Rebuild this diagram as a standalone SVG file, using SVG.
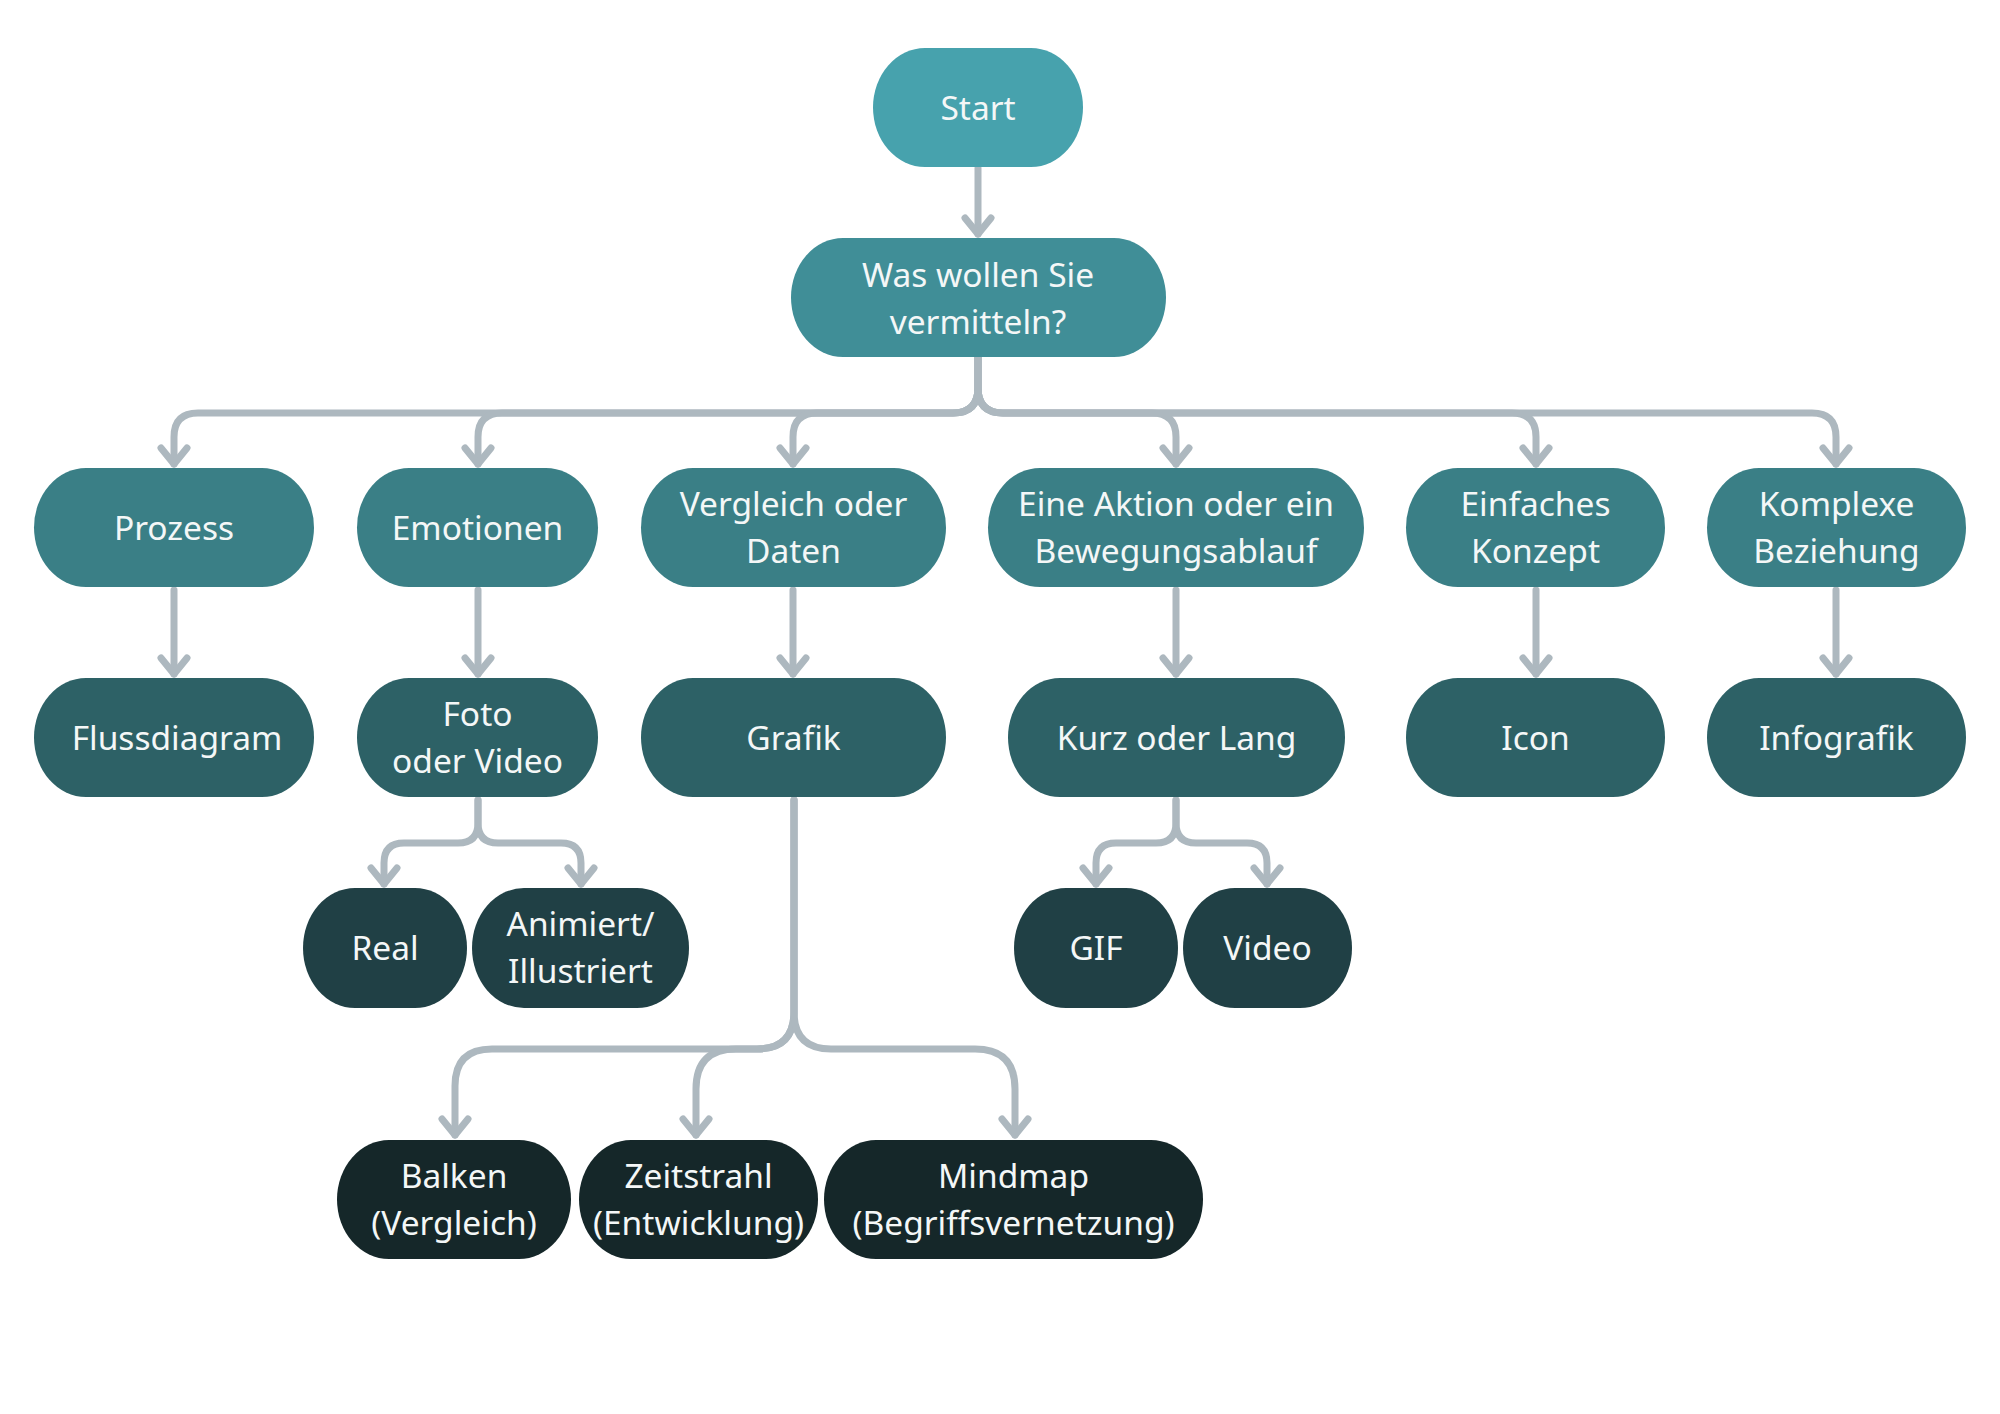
<svg xmlns="http://www.w3.org/2000/svg" width="2000" height="1414" viewBox="0 0 2000 1414">
<style>
.n0{fill:#47a2ad}.n1{fill:#408e97}.n2{fill:#3a7f86}.n3{fill:#2d6166}.n4{fill:#204045}.n5{fill:#152729}
text{font-family:"Noto Sans","Open Sans","DejaVu Sans",sans-serif;font-size:33.5px;fill:#f4f7f7;text-anchor:middle}
.c{fill:none;stroke:#adb8bf;stroke-width:7;stroke-linecap:round;stroke-linejoin:round}
</style>
<defs>
<marker id="ah" markerUnits="userSpaceOnUse" orient="auto" refX="0" refY="0" markerWidth="40" markerHeight="40" viewBox="-20 -20 40 40" overflow="visible">
<path d="M-16,-13 L0,0 L-16,13" fill="none" stroke="#adb8bf" stroke-width="7" stroke-linecap="round" stroke-linejoin="round"/>
</marker>
</defs>
<rect width="2000" height="1414" fill="#ffffff"/>
<g id="connectors">
<path class="c" marker-end="url(#ah)" d="M978,168 V234"/>
<path class="c" marker-end="url(#ah)" d="M978,357 V388 Q978,413 953,413 H198 Q174,413 174,437 V464"/>
<path class="c" marker-end="url(#ah)" d="M978,357 V388 Q978,413 953,413 H502 Q478,413 478,437 V464"/>
<path class="c" marker-end="url(#ah)" d="M978,357 V388 Q978,413 953,413 H817 Q793,413 793,437 V464"/>
<path class="c" marker-end="url(#ah)" d="M978,357 V388 Q978,413 1003,413 H1152 Q1176,413 1176,437 V464"/>
<path class="c" marker-end="url(#ah)" d="M978,357 V388 Q978,413 1003,413 H1512 Q1536,413 1536,437 V464"/>
<path class="c" marker-end="url(#ah)" d="M978,357 V388 Q978,413 1003,413 H1812 Q1836,413 1836,437 V464"/>
<path class="c" marker-end="url(#ah)" d="M174,590 V674"/>
<path class="c" marker-end="url(#ah)" d="M478,590 V674"/>
<path class="c" marker-end="url(#ah)" d="M793,590 V674"/>
<path class="c" marker-end="url(#ah)" d="M1176,590 V674"/>
<path class="c" marker-end="url(#ah)" d="M1536,590 V674"/>
<path class="c" marker-end="url(#ah)" d="M1836,590 V674"/>
<path class="c" marker-end="url(#ah)" d="M478,800 V823 Q478,843 458,843 H404 Q384,843 384,863 V884"/>
<path class="c" marker-end="url(#ah)" d="M478,800 V823 Q478,843 498,843 H561 Q581,843 581,863 V884"/>
<path class="c" marker-end="url(#ah)" d="M1176,800 V823 Q1176,843 1156,843 H1116 Q1096,843 1096,863 V884"/>
<path class="c" marker-end="url(#ah)" d="M1176,800 V823 Q1176,843 1196,843 H1247 Q1267,843 1267,863 V884"/>
<path class="c" marker-end="url(#ah)" d="M794,800 V1012 Q794,1049 757,1049 H492 Q455,1049 455,1086 V1135"/>
<path class="c" marker-end="url(#ah)" d="M794,800 V1012 Q794,1049 757,1049 H736 Q696,1049 696,1089 V1135"/>
<path class="c" marker-end="url(#ah)" d="M794,800 V1012 Q794,1049 831,1049 H975 Q1015,1049 1015,1089 V1135"/>
</g>
<g id="start"><rect class="n0" x="873" y="48" width="210" height="119" rx="52" ry="59.5"/><text x="978" y="119.5">Start</text></g>
<g id="frage"><rect class="n1" x="791" y="238" width="375" height="119" rx="52" ry="59.5"/><text x="978" y="287">Was wollen Sie</text><text x="978" y="334">vermitteln?</text></g>
<g id="prozess"><rect class="n2" x="34" y="468" width="280" height="119" rx="52" ry="59.5"/><text x="174" y="540">Prozess</text></g>
<g id="emotionen"><rect class="n2" x="357" y="468" width="241" height="119" rx="52" ry="59.5"/><text x="477.5" y="540">Emotionen</text></g>
<g id="vergleich"><rect class="n2" x="641" y="468" width="305" height="119" rx="52" ry="59.5"/><text x="793.5" y="516">Vergleich oder</text><text x="793.5" y="563">Daten</text></g>
<g id="aktion"><rect class="n2" x="988" y="468" width="376" height="119" rx="52" ry="59.5"/><text x="1176" y="516">Eine Aktion oder ein</text><text x="1176" y="563">Bewegungsablauf</text></g>
<g id="einfach"><rect class="n2" x="1406" y="468" width="259" height="119" rx="52" ry="59.5"/><text x="1535.5" y="516">Einfaches</text><text x="1535.5" y="563">Konzept</text></g>
<g id="komplex"><rect class="n2" x="1707" y="468" width="259" height="119" rx="52" ry="59.5"/><text x="1836.5" y="516">Komplexe</text><text x="1836.5" y="563">Beziehung</text></g>
<g id="fluss"><rect class="n3" x="34" y="678" width="280" height="119" rx="52" ry="59.5"/><text x="177" y="750">Flussdiagram</text></g>
<g id="foto"><rect class="n3" x="357" y="678" width="241" height="119" rx="52" ry="59.5"/><text x="477.5" y="726">Foto</text><text x="477.5" y="773">oder Video</text></g>
<g id="grafik"><rect class="n3" x="641" y="678" width="305" height="119" rx="52" ry="59.5"/><text x="793.5" y="750">Grafik</text></g>
<g id="kurz"><rect class="n3" x="1008" y="678" width="337" height="119" rx="52" ry="59.5"/><text x="1176.5" y="750">Kurz oder Lang</text></g>
<g id="icon"><rect class="n3" x="1406" y="678" width="259" height="119" rx="52" ry="59.5"/><text x="1535.5" y="750">Icon</text></g>
<g id="infografik"><rect class="n3" x="1707" y="678" width="259" height="119" rx="52" ry="59.5"/><text x="1836.5" y="750">Infografik</text></g>
<g id="real"><rect class="n4" x="303" y="888" width="164" height="120" rx="52" ry="60"/><text x="385" y="960">Real</text></g>
<g id="animiert"><rect class="n4" x="472" y="888" width="217" height="120" rx="52" ry="60"/><text x="580.5" y="936">Animiert/</text><text x="580.5" y="983">Illustriert</text></g>
<g id="gif"><rect class="n4" x="1014" y="888" width="164" height="120" rx="52" ry="60"/><text x="1096" y="960">GIF</text></g>
<g id="video"><rect class="n4" x="1183" y="888" width="169" height="120" rx="52" ry="60"/><text x="1267.5" y="960">Video</text></g>
<g id="balken"><rect class="n5" x="337" y="1140" width="234" height="119" rx="52" ry="59.5"/><text x="454" y="1188">Balken</text><text x="454" y="1235">(Vergleich)</text></g>
<g id="zeitstrahl"><rect class="n5" x="579" y="1140" width="239" height="119" rx="52" ry="59.5"/><text x="698.5" y="1188">Zeitstrahl</text><text x="698.5" y="1235">(Entwicklung)</text></g>
<g id="mindmap"><rect class="n5" x="824" y="1140" width="379" height="119" rx="52" ry="59.5"/><text x="1013.5" y="1188">Mindmap</text><text x="1013.5" y="1235">(Begriffsvernetzung)</text></g>
</svg>
